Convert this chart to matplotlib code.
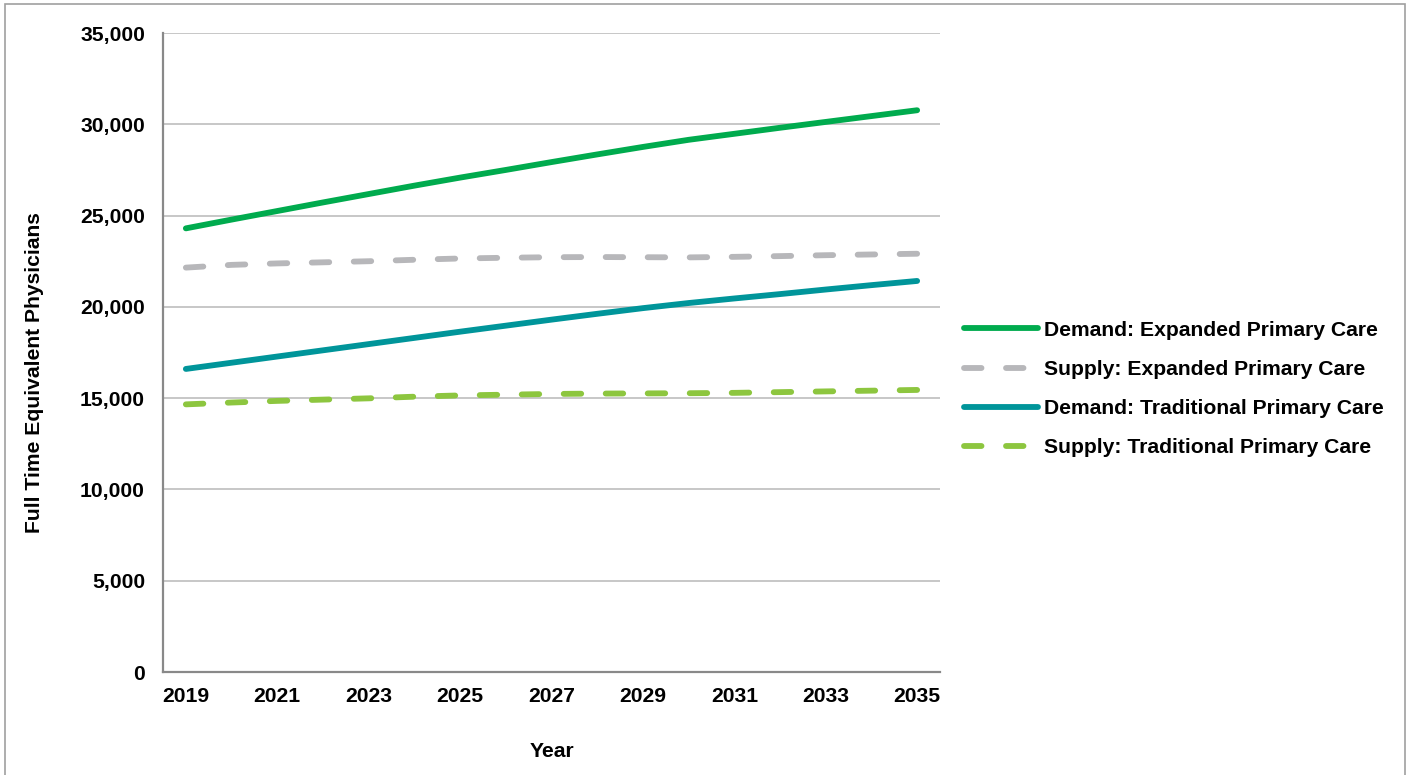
import matplotlib
matplotlib.use('Agg')
import matplotlib.pyplot as plt
import matplotlib.patches as patches
import matplotlib.ticker as ticker

plt.rcParams['font.family'] = ['Liberation Sans', 'DejaVu Sans']
plt.rcParams['font.weight'] = 'bold'

years = list(range(2019, 2036))

demand_expanded = [24300, 24780, 25250, 25720, 26180, 26640, 27080, 27500, 27930,
                   28350, 28760, 29150, 29480, 29810, 30130, 30450, 30770]
supply_expanded = [22150, 22300, 22380, 22440, 22500, 22580, 22650, 22690, 22720,
                   22730, 22720, 22710, 22740, 22780, 22830, 22870, 22910]
demand_traditional = [16600, 16940, 17280, 17620, 17960, 18300, 18640, 18970, 19300,
                      19620, 19930, 20210, 20460, 20700, 20950, 21190, 21420]
supply_traditional = [14660, 14760, 14850, 14920, 14990, 15080, 15150, 15190, 15230,
                      15250, 15260, 15270, 15290, 15330, 15370, 15410, 15450]

series = [
    ('Demand: Expanded Primary Care', demand_expanded, '#00AB4E', False),
    ('Supply: Expanded Primary Care', supply_expanded, '#B7B7BA', True),
    ('Demand: Traditional Primary Care', demand_traditional, '#00959A', False),
    ('Supply: Traditional Primary Care', supply_traditional, '#8DC63F', True),
]

fs = 15.2

fig = plt.figure(figsize=(14.15, 7.75), dpi=100)
ax = fig.add_axes([0.1152, 0.1329, 0.5491, 0.8245])

for label, vals, color, dashed in series:
    line, = ax.plot(years, vals, color=color, lw=4.2, label=label,
                    solid_capstyle='round', dash_capstyle='round')
    if dashed:
        line.set_dashes((3.0, 4.2))

ax.set_xlim(2018.5, 2035.5)
ax.set_ylim(0, 35000)
ax.set_xticks(years[::2])
ax.yaxis.set_major_locator(ticker.MultipleLocator(5000))
ax.yaxis.set_major_formatter(ticker.FuncFormatter(lambda v, p: f'{int(v):,}'))
ax.tick_params(axis='both', length=0, labelsize=fs)
ax.tick_params(axis='y', pad=13)
ax.tick_params(axis='x', pad=11)

ax.grid(axis='y', color='#BEBEBE', lw=1.2)
ax.set_axisbelow(True)
for side in ['top', 'right']:
    ax.spines[side].set_visible(False)
for side in ['left', 'bottom']:
    ax.spines[side].set_color('#898989')
    ax.spines[side].set_linewidth(1.6)

ax.set_xlabel('Year', fontsize=fs, fontweight='bold', labelpad=26)
ax.set_ylabel('Full Time Equivalent Physicians', fontsize=fs, fontweight='bold')
ax.yaxis.set_label_coords(-0.153, 0.469)

ax.legend(loc='center left', bbox_to_anchor=(1.02, 0.443), frameon=False,
          fontsize=fs, handlelength=3.5, handletextpad=0.3, labelspacing=0.95,
          borderaxespad=0)

# thin frame around the whole figure
fig.patches.append(patches.Rectangle((5 / 1415, -0.01), 1400 / 1415, 1 - 4 / 775 + 0.01,
                                     transform=fig.transFigure, fill=False,
                                     ec='#A0A0A0', lw=1.2))

fig.savefig('out.png', dpi=100)
